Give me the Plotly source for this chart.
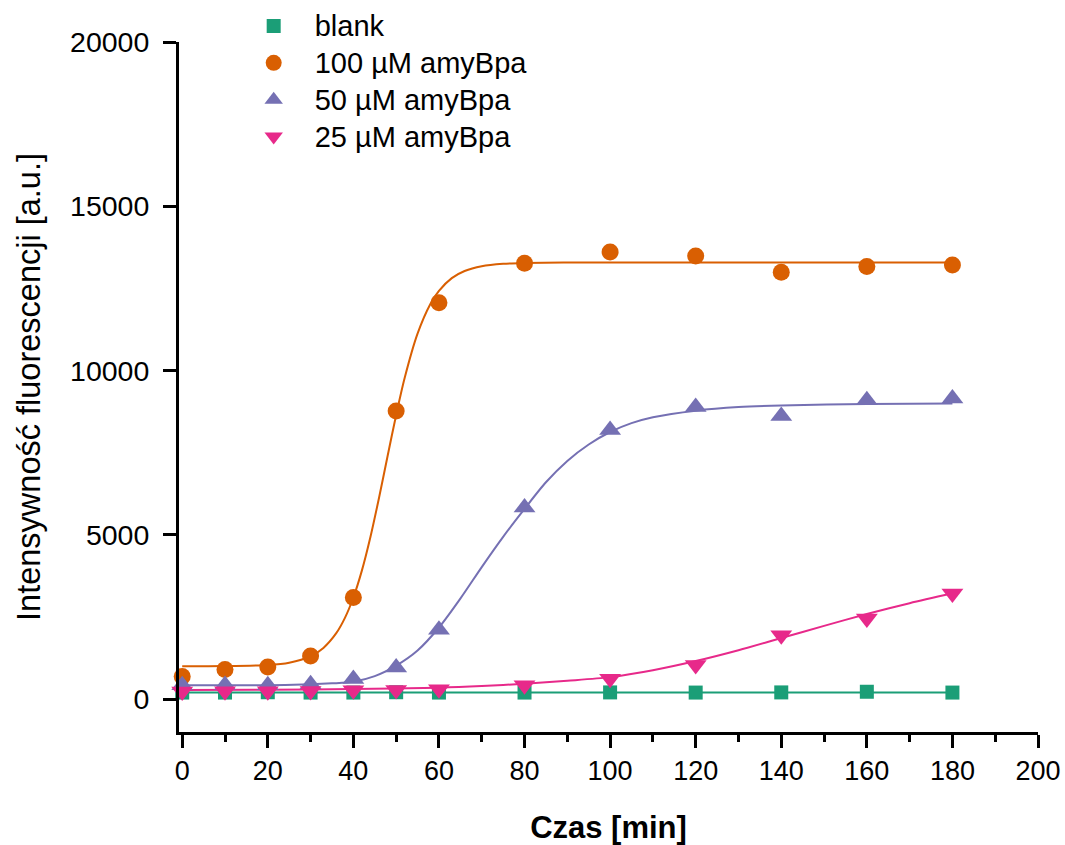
import plotly.graph_objects as go

# Time points [min]
time_min = [0, 10, 20, 30, 40, 50, 60, 80, 100, 120, 140, 160, 180]

# Measured fluorescence intensity [a.u.]
blank = [200, 200, 210, 200, 200, 210, 200, 200, 205, 200, 205, 225, 200]
amy_100 = [690, 905, 980, 1310, 3096, 8767, 12063, 13263, 13612, 13486, 12990, 13170, 13211]
amy_50 = [420, 430, 420, 450, 610, 960, 2115, 5830, 8190, 8890, 8620, 9100, 9150]
amy_25 = [235, 240, 240, 250, 270, 280, 300, 420, 618, 1040, 1948, 2455, 3217]

# Fitted (sigmoidal) curves, sampled along the time axis
fit_blank_t = [0, 180]
fit_blank = [205, 205]

fit_100_t = [0, 10, 20, 25, 30, 33, 36, 38, 40, 42, 44, 46, 48, 50, 52, 55, 58, 60,
             63, 66, 70, 75, 80, 90, 100, 120, 140, 160, 180]
fit_100 = [1000, 1005, 1039, 1110, 1306, 1560, 2007, 2465, 3093, 3919, 4943, 6131,
           7401, 8650, 9780, 11123, 12027, 12426, 12813, 13030, 13176, 13249, 13275,
           13288, 13290, 13290, 13290, 13290, 13290]

fit_50_t = [0, 20, 30, 35, 40, 45, 50, 55, 60, 65, 70, 75, 80, 85, 90, 95, 100, 105,
            110, 120, 130, 140, 160, 180]
fit_50 = [420, 425, 450, 480, 530, 700, 1020, 1480, 2180, 3060, 4020, 4940, 5790,
          6600, 7250, 7750, 8130, 8400, 8580, 8780, 8890, 8940, 8985, 9000]

fit_25_t = [0, 20, 40, 60, 70, 80, 90, 100, 110, 120, 130, 140, 150, 160, 170, 180]
fit_25 = [275, 285, 305, 350, 400, 470, 560, 670, 880, 1160, 1490, 1860, 2230, 2590,
          2920, 3220]

x_ticks = list(range(0, 201, 20))
y_ticks = [0, 5000, 10000, 15000, 20000]

labels = ["blank", "100 \u00b5M amyBpa", "50 \u00b5M amyBpa", "25 \u00b5M amyBpa"]
colors = ["#1b9e77", "#d95f02", "#7570b3", "#e7298a"]
symbols = ["square", "circle", "triangle-up", "triangle-down"]
sizes = [14, 17, 19, 19]

FONT = "Liberation Sans, Arial, sans-serif"

fig = go.Figure()

# Fit curves first so the markers sit on top
fits = [(fit_blank_t, fit_blank, "linear"), (fit_100_t, fit_100, "spline"),
        (fit_50_t, fit_50, "spline"), (fit_25_t, fit_25, "spline")]
for (tx, ty, shape), c in zip(fits, colors):
    fig.add_trace(go.Scatter(
        x=tx, y=ty, mode="lines", showlegend=False, hoverinfo="skip",
        line=dict(color=c, width=2, shape=shape, smoothing=0.8),
    ))

series = [blank, amy_100, amy_50, amy_25]
for vals, name, c, sym, sz in zip(series, labels, colors, symbols, sizes):
    fig.add_trace(go.Scatter(
        x=time_min, y=vals, mode="markers",
        name=f'<span style="font-size:29px">{name}</span>',
        marker=dict(color=c, symbol=sym, size=sz, line=dict(width=0)),
        cliponaxis=False,
    ))

fig.update_layout(
    width=1065, height=845,
    margin=dict(l=179, r=27, t=42, b=113, autoexpand=False),
    paper_bgcolor="white", plot_bgcolor="white",
    font=dict(family=FONT, size=28, color="black"),
    showlegend=True,
    legend=dict(
        x=0.0625, y=1.057, xanchor="left", yanchor="top",
        bgcolor="rgba(0,0,0,0)", font=dict(size=26),
        itemwidth=72, tracegroupgap=0,
    ),
)

fig.update_xaxes(
    range=[-0.75, 200], tickvals=x_ticks, ticktext=[str(v) for v in x_ticks],
    showline=True, linecolor="black", linewidth=3,
    ticks="outside", ticklen=13, tickwidth=2.5, tickcolor="black",
    minor=dict(ticks="outside", ticklen=7, tickwidth=2.5, tickcolor="black", dtick=10, tick0=0),
    showgrid=False, zeroline=False, ticklabelstandoff=0, automargin=False,
    tickfont=dict(size=27),
    title=dict(text="<b>Czas [min]</b>", font=dict(size=31), standoff=36),
)
fig.update_yaxes(
    range=[-1000, 20000], tickvals=y_ticks, ticktext=[str(v) for v in y_ticks],
    showline=True, linecolor="black", linewidth=3,
    ticks="outside", ticklen=13, tickwidth=2.5, tickcolor="black",
    showgrid=False, zeroline=False, ticklabelstandoff=8, automargin=False,
    tickfont=dict(size=28.5),
    title=dict(text="Intensywno\u015b\u0107 fluorescencji [a.u.]", font=dict(size=32.5), standoff=20),
)

fig.write_html("out.html")
